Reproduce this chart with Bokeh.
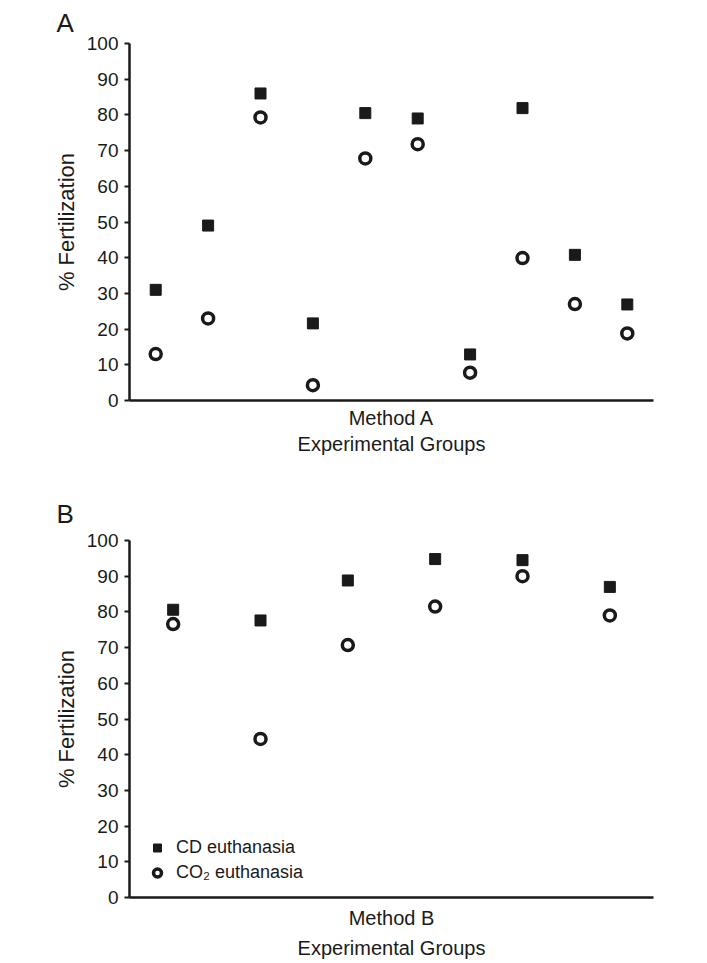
from bokeh.plotting import figure
from bokeh.models import Range1d, FixedTicker, Legend, LegendItem
from bokeh.layouts import column
from bokeh.embed import file_html
from bokeh.resources import INLINE

# Panel A data (Method A, 10 experimental groups)
groups_a = [1, 2, 3, 4, 5, 6, 7, 8, 9, 10]
cd_a = [31, 49, 86, 21.6, 80.5, 79, 12.9, 81.9, 40.8, 26.9]
co2_a = [13, 23, 79.3, 4.3, 67.8, 71.8, 7.8, 39.9, 27, 18.8]

# Panel B data (Method B, 6 experimental groups)
groups_b = [1, 2, 3, 4, 5, 6]
cd_b = [80.6, 77.6, 88.8, 94.8, 94.5, 87.0]
co2_b = [76.6, 44.4, 70.7, 81.5, 90.0, 79.0]

y_ticks = [0, 10, 20, 30, 40, 50, 60, 70, 80, 90, 100]
FONT = "Liberation Sans"
INK = "#1a1a1a"


def make_panel(letter, groups, cd, co2, xlabel, height, top, bottom,
               title_standoff, xl_standoff, xl_lh, legend=False):
    p = figure(width=698, height=height, output_backend="svg", toolbar_location=None,
               x_range=Range1d(0.5, len(groups) + 0.5), y_range=Range1d(0, 100),
               min_border_left=129, min_border_right=45,
               min_border_top=top, min_border_bottom=bottom)
    p.outline_line_color = None
    p.grid.visible = False
    p.background_fill_color = "white"

    p.title.text = letter
    p.title.text_font = FONT
    p.title.text_font_size = "26px"
    p.title.text_font_style = "normal"
    p.title.text_color = INK
    p.title.text_line_height = 1.0
    p.title.align = "left"
    p.title.offset = -73
    p.title.standoff = title_standoff

    yax = p.yaxis[0]
    yax.ticker = FixedTicker(ticks=y_ticks)
    yax.minor_tick_line_color = None
    yax.major_tick_in = 0
    yax.major_tick_out = 5
    yax.major_tick_line_width = 2
    yax.major_tick_line_color = INK
    yax.axis_line_width = 2.5
    yax.axis_line_color = INK
    yax.major_label_text_font = FONT
    yax.major_label_text_font_size = "19px"
    yax.major_label_text_color = INK
    yax.major_label_standoff = 6
    yax.axis_label = "% Fertilization"
    yax.axis_label_text_font = FONT
    yax.axis_label_text_font_size = "22px"
    yax.axis_label_text_font_style = "normal"
    yax.axis_label_text_color = INK
    yax.axis_label_standoff = 5

    xax = p.xaxis[0]
    xax.ticker = FixedTicker(ticks=[])
    xax.minor_tick_line_color = None
    xax.major_tick_line_color = None
    xax.major_label_text_font_size = "0px"
    xax.axis_line_width = 2.5
    xax.axis_line_color = INK
    xax.axis_label = xlabel
    xax.axis_label_text_font = FONT
    xax.axis_label_text_font_size = "20px"
    xax.axis_label_text_font_style = "normal"
    xax.axis_label_text_color = INK
    xax.axis_label_text_line_height = xl_lh
    xax.axis_label_standoff = xl_standoff

    r1 = p.scatter(groups, cd, marker="square", size=11, fill_color=INK, line_color=INK)
    r2 = p.scatter(groups, co2, marker="circle", size=11, fill_color="white",
                   line_color=INK, line_width=3.5)

    if legend:
        leg = Legend(items=[LegendItem(label="CD euthanasia", renderers=[r1]),
                            LegendItem(label="CO\u2082 euthanasia", renderers=[r2])],
                     location=(18, 12), margin=0, padding=0, spacing=0,
                     glyph_width=20, glyph_height=25, label_height=25,
                     label_standoff=9, label_text_font=FONT, label_text_font_size="18px",
                     label_text_color=INK, border_line_color=None,
                     background_fill_alpha=0)
        p.add_layout(leg, "center")
    return p


pa = make_panel("A", groups_a, cd_a, co2_a, "Method A\nExperimental Groups", 470, 43, 70,
                11, 6, 1.2)
pb = make_panel("B", groups_b, cd_b, co2_b, "Method B\nExperimental Groups", 492, 70, 65,
                24, 9, 1.4, legend=True)

layout = column(pa, pb, spacing=0)
open("out.html", "w").write(file_html(layout, INLINE))
